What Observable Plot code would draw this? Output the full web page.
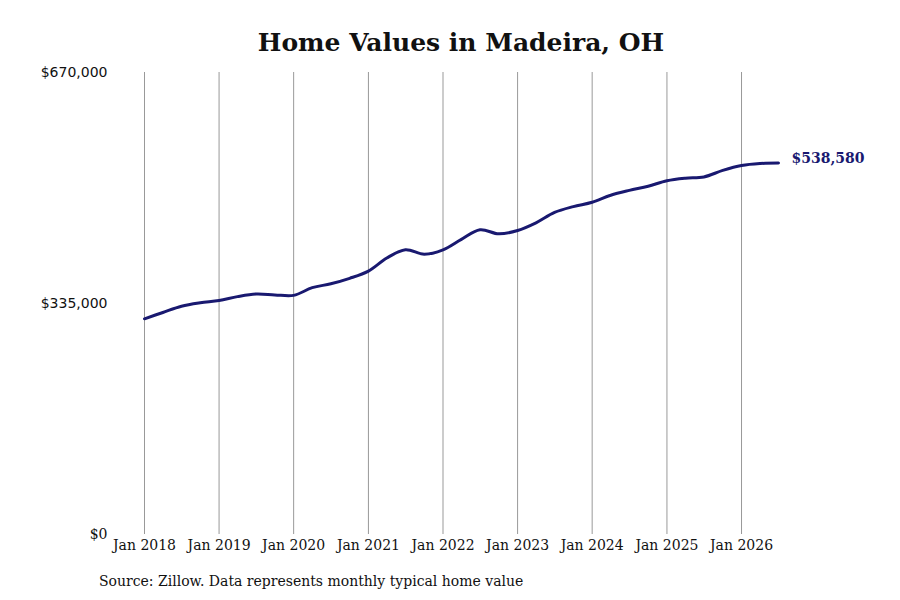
<!DOCTYPE html>
<html>
<head>
<meta charset="utf-8">
<script src="https://cdn.jsdelivr.net/npm/d3@7"></script>
<script src="https://cdn.jsdelivr.net/npm/@observablehq/plot@0.6"></script>
<style>
  html, body { margin: 0; padding: 0; background: #fff; }
  #wrap { width: 900px; height: 600px; position: relative; }
  #title { height: 60px; line-height: 86px; box-sizing: border-box; padding-left: 22px; text-align: center;
           font-family: "DejaVu Serif", serif; font-weight: bold; font-size: 25px; color: #111; overflow: visible; }
  #caption { position: absolute; left: 99px; top: 573px; font-family: "DejaVu Serif", serif; font-size: 14px; color: #111; white-space: nowrap; }
</style>
</head>
<body>
<div id="wrap">
  <div id="title">Home Values in Madeira, OH</div>
  <div id="chart"></div>
  <div id="caption">Source: Zillow. Data represents monthly typical home value</div>
</div>
<script>
const dates = [
  "2018-01","2018-04","2018-07","2018-10",
  "2019-01","2019-04","2019-07","2019-10",
  "2020-01","2020-04","2020-07","2020-10",
  "2021-01","2021-04","2021-07","2021-10",
  "2022-01","2022-04","2022-07","2022-10",
  "2023-01","2023-04","2023-07","2023-10",
  "2024-01","2024-04","2024-07","2024-10",
  "2025-01","2025-04","2025-07","2025-10",
  "2026-01","2026-04","2026-07"
];
const values = [
  312800, 322000, 331000, 336000,
  339300, 345000, 348800, 347500,
  346800, 358000, 363600, 371500,
  382000, 401000, 413000, 406500,
  412900, 428000, 442000, 436000,
  440900, 452000, 467000, 475500,
  481900, 492000, 499000, 505000,
  513000, 516700, 518500, 528000,
  535100, 538000, 538580
];
const yTicks = [335000, 670000];
const yZero = [0];
const xTickYears = [2018, 2019, 2020, 2021, 2022, 2023, 2024, 2025, 2026];
const endLabel = "$538,580";

const parse = d3.utcParse("%Y-%m");
const data = dates.map((d, i) => ({date: parse(d), value: values[i]}));
const xTicks = xTickYears.map(y => new Date(Date.UTC(y, 0, 1)));
const navy = "#191970";
const money = d3.format("$,.0f");

const chart = Plot.plot({
  width: 900,
  height: 500,
  marginTop: 12,
  marginBottom: 26,
  marginLeft: 144,
  marginRight: 122,
  style: {fontFamily: "DejaVu Serif, serif", fontSize: "14px", color: "#111", background: "transparent"},
  x: {type: "utc", domain: [data[0].date, data[data.length - 1].date]},
  y: {domain: [0, 670000]},
  marks: [
    Plot.ruleX(xTicks, {x: d => d, y1: 0, y2: 670000, stroke: "#999", strokeWidth: 1}),
    Plot.axisX(xTicks, {tickSize: 0, tickPadding: 6, tickFormat: d3.utcFormat("Jan %Y"), fontSize: 14, label: null}),
    Plot.axisY(yTicks, {tickSize: 0, tickPadding: 37, tickFormat: money, fontFamily: "DejaVu Sans, sans-serif", fontSize: 14, label: null}),
    Plot.axisY(yZero, {tickSize: 0, tickPadding: 37, tickFormat: money, fontSize: 14, label: null}),
    Plot.line(data, {x: "date", y: "value", stroke: navy, strokeWidth: 3, curve: "catmull-rom"}),
    Plot.text([data[data.length - 1]], {x: "date", y: "value", text: () => endLabel, dx: 13, dy: -5, textAnchor: "start", fill: navy, fontWeight: "bold", fontSize: 14})
  ]
});
document.getElementById("chart").appendChild(chart);
</script>
</body>
</html>
